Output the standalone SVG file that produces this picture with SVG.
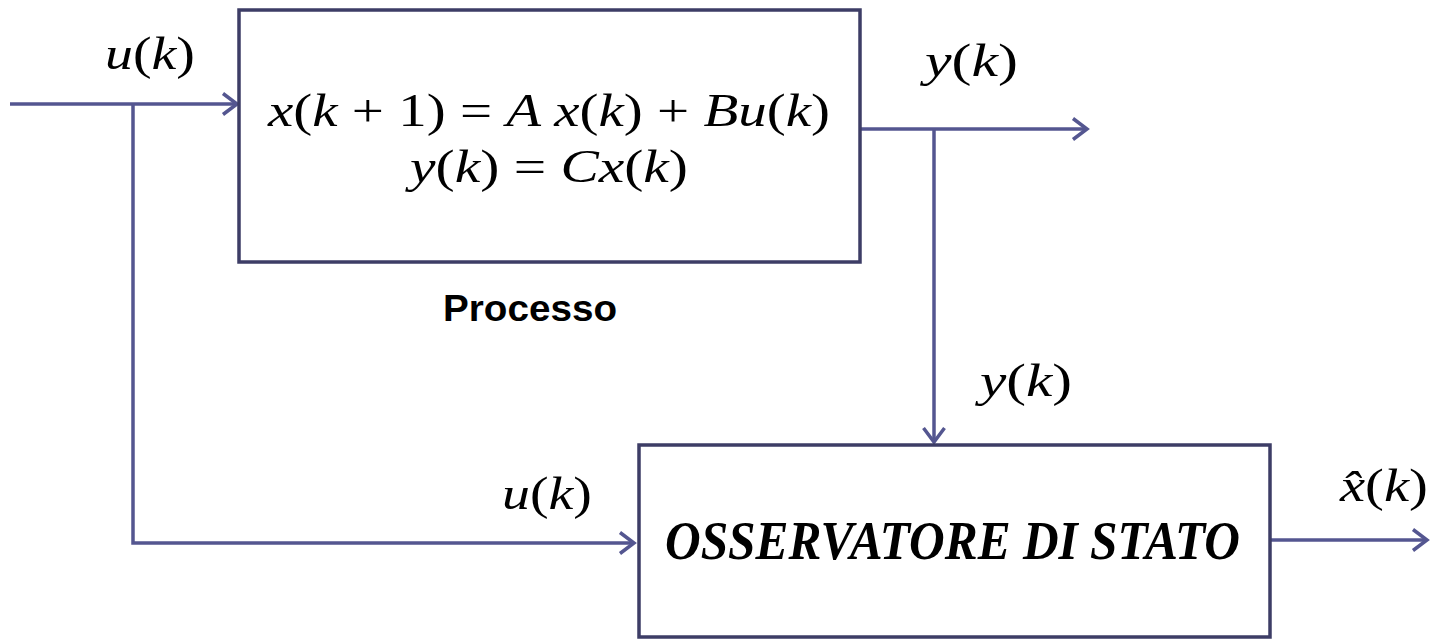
<svg xmlns="http://www.w3.org/2000/svg" width="1433" height="639" viewBox="0 0 1433 639">
<style>
.box{fill:#fff;stroke:#3d3d66;stroke-width:3.5}
.wire{fill:none;stroke:#545690;stroke-width:3.5}
.m{font-family:"Liberation Serif","DejaVu Serif",serif;font-size:46px;fill:#000}
.i{font-style:italic}
.lbl{font-family:"Liberation Sans",Arial,sans-serif;font-weight:bold;font-size:36px;fill:#000}
.obs{font-family:"Liberation Serif","DejaVu Serif",serif;font-weight:bold;font-style:italic;font-size:55px;fill:#000}
</style>
<defs>
<marker id="arr" markerWidth="24" markerHeight="24" refX="19" refY="12" orient="auto" markerUnits="userSpaceOnUse">
<path d="M5,1.5 L19,12 L5,22.5" fill="none" stroke="#545690" stroke-width="3.5"/>
</marker>
</defs>
<rect width="1433" height="639" fill="#fff"/>
<g id="connectors">
<path class="wire" d="M10,104 H237" marker-end="url(#arr)"/>
<path class="wire" d="M133,104 V543 H634" marker-end="url(#arr)"/>
<path class="wire" d="M860,129 H1087" marker-end="url(#arr)"/>
<path class="wire" d="M934,129 V442" marker-end="url(#arr)"/>
<path class="wire" d="M1270,540 H1427" marker-end="url(#arr)"/>
</g>
<g id="processo">
<rect class="box" x="239" y="10" width="621" height="252"/>
<text class="m" x="268" y="126" textLength="562" lengthAdjust="spacingAndGlyphs"><tspan class="i">x</tspan>(<tspan class="i">k</tspan> + 1) = <tspan class="i">A x</tspan>(<tspan class="i">k</tspan>) + <tspan class="i">Bu</tspan>(<tspan class="i">k</tspan>)</text>
<text class="m" x="410" y="182" textLength="278" lengthAdjust="spacingAndGlyphs"><tspan class="i">y</tspan>(<tspan class="i">k</tspan>) = <tspan class="i">Cx</tspan>(<tspan class="i">k</tspan>)</text>
<text class="lbl" x="443" y="321" textLength="174" lengthAdjust="spacingAndGlyphs">Processo</text>
</g>
<g id="osservatore">
<rect class="box" x="639" y="445" width="631" height="192"/>
<text class="obs" x="665" y="559" textLength="575" lengthAdjust="spacingAndGlyphs">OSSERVATORE DI STATO</text>
</g>
<g id="labels">
<text class="m" x="105" y="69" textLength="90" lengthAdjust="spacingAndGlyphs"><tspan class="i">u</tspan>(<tspan class="i">k</tspan>)</text>
<text class="m" x="925" y="76" textLength="93" lengthAdjust="spacingAndGlyphs"><tspan class="i">y</tspan>(<tspan class="i">k</tspan>)</text>
<text class="m" x="980" y="396" textLength="92" lengthAdjust="spacingAndGlyphs"><tspan class="i">y</tspan>(<tspan class="i">k</tspan>)</text>
<text class="m" x="502" y="509" textLength="90" lengthAdjust="spacingAndGlyphs"><tspan class="i">u</tspan>(<tspan class="i">k</tspan>)</text>
<text class="m" x="1340" y="501" textLength="88" lengthAdjust="spacingAndGlyphs"><tspan class="i">x̂</tspan>(<tspan class="i">k</tspan>)</text>
</g>
</svg>
